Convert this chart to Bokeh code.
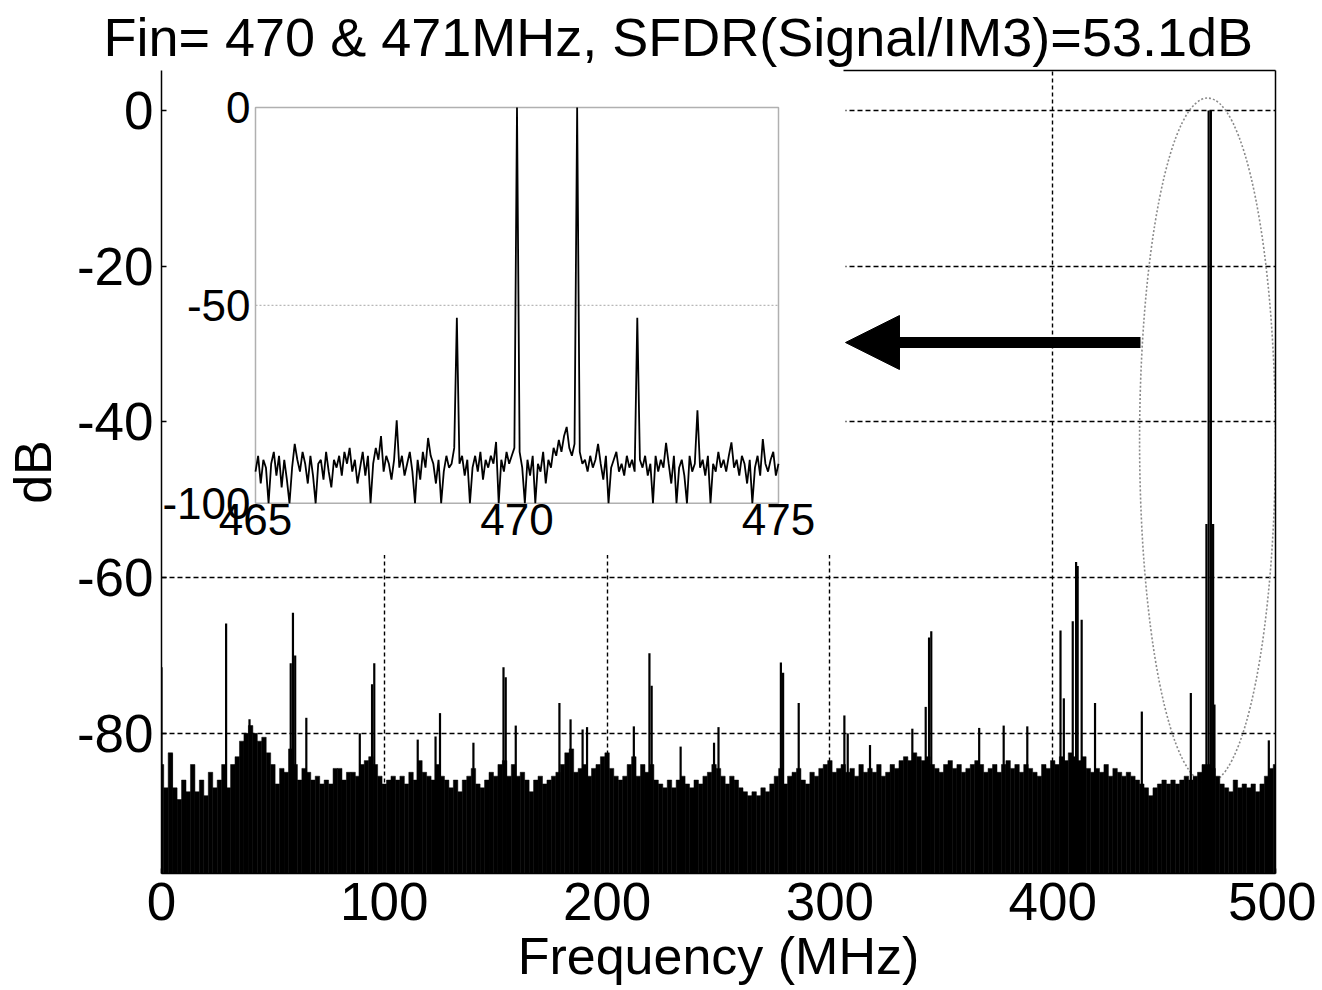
from bokeh.plotting import figure
from bokeh.models import Range1d, LinearAxis, FixedTicker, Arrow, NormalHead, ColumnDataSource
from bokeh.core.properties import value
from bokeh.embed import file_html
from bokeh.resources import INLINE

# ---------------- data ----------------
TITLE = "Fin= 470 & 471MHz, SFDR(Signal/IM3)=53.1dB"
X_TICKS = [0, 100, 200, 300, 400, 500]
Y_TICKS = [0, -20, -40, -60, -80]

# main spectrum noise floor, one value every 2 MHz from 0 to 500 MHz (dB)
NOISE_STEP_MHZ = 2
NOISE_DB = [
    -84, -87, -82.5, -87, -88.5, -86, -87.5, -84, -87.5, -86,
    -88, -85, -87, -86, -84, -87, -84, -83, -81, -80,
    -79, -80, -81, -80.5, -82.5, -84, -86.5, -84.5, -85, -82,
    -84, -86, -84.5, -85, -86, -85.5, -86.5, -86, -86.5, -84.5,
    -84.5, -86, -85, -85, -85.5, -84, -83.5, -83, -84, -85.5,
    -86.5, -86, -85.5, -86, -85.5, -86.5, -85, -86, -83.5, -85,
    -85.5, -86, -84, -85.5, -86, -87, -86, -87.5, -86, -85.5,
    -84.5, -86.5, -87, -86, -85, -85.5, -84, -83.5, -85.5, -84,
    -85.5, -85, -86, -87.5, -86, -85.5, -86.5, -86, -85.5, -85,
    -84, -82.5, -82, -85, -84.5, -84, -85.5, -84.5, -84, -83,
    -82.5, -84.5, -85.5, -86, -85.5, -84, -83, -85.5, -84, -85,
    -84, -86, -86.5, -87, -86, -87, -86, -85.5, -86.5, -87,
    -86, -86.5, -85.5, -85, -84, -84.5, -85.5, -86.5, -85.5, -86,
    -87, -87.5, -88, -87.5, -88, -87, -87.5, -86.5, -85.5, -84.5,
    -86.5, -85.5, -85, -84.5, -86, -86.5, -85, -85.5, -84.5, -84,
    -83.5, -85, -84.5, -84, -85, -84.5, -85.5, -84, -85, -84.5,
    -85, -84, -85.5, -85, -84, -84.5, -83.5, -83, -83.5, -82.5,
    -83, -83.5, -83, -84, -84.5, -85, -84, -83.5, -84.5, -84,
    -85, -84.5, -84, -83.5, -84, -85, -84.5, -84, -85, -84,
    -83.5, -84.5, -84, -85, -84, -84.5, -85, -85.5, -84, -84.5,
    -83.5, -84, -83, -83.5, -82.5, -83, -83.5, -83, -84.5, -85,
    -84.5, -85, -84, -85.5, -84.5, -85, -85.5, -85, -85.5, -86,
    -86.5, -87, -88, -87, -86.5, -86, -86.5, -86, -86.5, -86,
    -85.5, -86, -85.5, -85, -84, -84, -84.5, -85.5, -86.5, -87,
    -87.5, -86, -87, -86.5, -87, -86.5, -87.5, -86.5, -85.5, -84.5,
    -84,
]

# spurs and tones standing above the floor
SPUR_MHZ = [0, 4.5, 29, 39.5, 58, 59, 60, 65, 89, 94.5,
            95.5, 115, 123, 125, 140, 153.5, 154.5, 159, 178.6, 183.6,
            189, 191, 212, 219, 220, 233, 248, 250, 278, 279,
            286, 306.5, 308, 318, 337, 343, 344.5, 345.5, 367, 378,
            388.6, 403.5, 405, 409, 410.5, 411.2, 413, 419, 440, 462,
            469, 470, 471, 472, 472.6, 497]
SPUR_DB = [-71.5, -82.6, -65.9, -78.2, -71, -64.5, -70, -78, -80, -73.7,
           -71, -80.8, -80.4, -77.4, -81.2, -71.5, -72.8, -79, -76.1, -78.2,
           -79.5, -79.2, -79.1, -69.7, -73.9, -81.7, -81.2, -79.2, -70.9, -72.2,
           -76.1, -77.7, -80, -81.5, -79.4, -76.6, -67.7, -66.9, -79.3, -79,
           -79.1, -66.8, -75.5, -65.6, -58, -58.5, -65.4, -76.1, -77.2, -74.8,
           -53.1, 0, 0, -53.1, -76.3, -80.9]

# zoomed inset: 465-475 MHz, one value every 0.05 MHz (dB)
INSET_START_MHZ = 465
INSET_STEP_MHZ = 0.05
INSET_DB = [
    -92, -88, -95, -89, -91, -100, -90, -87, -93, -88, -96, -89, -94, -100, -91, -85, -89, -92, -87, -90,
    -95, -88, -93, -100, -90, -89, -94, -87, -92, -96, -89, -91, -88, -93, -87, -90, -86, -92, -89, -95,
    -91, -87, -93, -88, -100, -90, -86, -89, -83, -92, -88, -90, -94, -89, -79, -91, -88, -93, -90, -87,
    -92, -100, -89, -94, -87, -91, -83.5, -88, -90, -95, -89, -100, -92, -88, -91, -90, -86, -53.1, -90, -88,
    -93, -89, -100, -91, -88, -92, -87, -94, -89, -91, -88, -90, -84.5, -100, -89, -92, -87, -90, -88, -86,
    0, -87, -91, -100, -89, -93, -88, -100, -90, -92, -87, -95, -89, -91, -86, -88, -84, -87, -83, -80.7,
    -86, -88, -85, 0, -87, -90, -89, -92, -88, -91, -89, -85, -90, -94, -88, -100, -91, -89, -87, -92,
    -90, -93, -88, -91, -89, -92, -53.1, -89, -91, -88, -93, -90, -100, -88, -92, -89, -91, -84.7, -90, -95,
    -88, -100, -91, -89, -93, -100, -88, -92, -90, -76.5, -91, -89, -93, -88, -100, -90, -92, -87, -91, -89,
    -92, -88, -84.6, -91, -89, -93, -88, -90, -95, -89, -100, -91, -88, -93, -83.8, -90, -92, -89, -87, -93,
    -90,
]
INSET_X_TICKS = [465, 470, 475]
INSET_Y_TICKS = [0, -50, -100]

# ---------------- layout constants ----------------
X_MIN, X_MAX = 0, 500
Y_MIN, Y_MAX = -98, 5.14
# inset frame placed inside main data coordinates (left, right, bottom, top)
INSET_BOX = (42.19, 276.93, -50.45, 0.385)
INSET_XR = (465, 475)
INSET_YR = (-100, 0)
INSET_COVER = (X_MIN, 307.0, -57.1, Y_MAX + 2)   # white area behind inset
ELLIPSE = dict(x=469.5, y=-42.4, w=61, h=88)
ARROW = dict(x0=439.4, x1=307.0, y=-29.8)

FONT = "Liberation Sans"

# derived extra ranges so that the inset maps onto INSET_BOX
bl, br, bb, bt = INSET_BOX
sx = (INSET_XR[1] - INSET_XR[0]) / (br - bl)
sy = (INSET_YR[1] - INSET_YR[0]) / (bt - bb)
inset_x_range = Range1d(INSET_XR[0] - (bl - X_MIN) * sx, INSET_XR[1] + (X_MAX - br) * sx)
inset_y_range = Range1d(INSET_YR[0] - (bb - Y_MIN) * sy, INSET_YR[1] + (Y_MAX - bt) * sy)

p = figure(width=1316, height=988,
           x_range=Range1d(X_MIN, X_MAX), y_range=Range1d(Y_MIN, Y_MAX),
           output_backend="svg", toolbar_location=None,
           min_border_left=161, min_border_right=41, min_border_top=70, min_border_bottom=115)
p.extra_x_ranges = {"ix": inset_x_range}
p.extra_y_ranges = {"iy": inset_y_range}
p.outline_line_color = None
p.background_fill_color = "white"
p.border_fill_color = "white"

p.title.text = TITLE
p.title.text_font = FONT
p.title.text_font_size = "54px"
p.title.text_font_style = "normal"
p.title.text_color = "black"
p.title.align = "left"
p.title.offset = -58
p.title.standoff = 8

for ax in (p.xaxis[0], p.yaxis[0]):
    ax.major_label_text_font = FONT
    ax.major_label_text_font_size = "53px"
    ax.axis_label_text_font = FONT
    ax.axis_label_text_font_size = "52px"
    ax.axis_label_text_font_style = "normal"
    ax.major_tick_in = 5
    ax.major_tick_out = 0
    ax.minor_tick_line_color = None
    ax.axis_line_color = "black"
    ax.axis_line_width = 1.5
    ax.major_tick_line_width = 1.5
    ax.major_label_text_color = "black"
    ax.axis_label_text_color = "black"
p.xaxis[0].ticker = FixedTicker(ticks=X_TICKS)
p.yaxis[0].ticker = FixedTicker(ticks=Y_TICKS)
p.yaxis[0].major_label_overrides = {t: str(t) for t in Y_TICKS}
p.xaxis[0].axis_label = "Frequency (MHz)"
p.yaxis[0].axis_label = "dB"
p.xaxis[0].major_label_standoff = 9
p.xaxis[0].axis_label_standoff = 4
p.yaxis[0].major_label_standoff = 8
p.yaxis[0].axis_label_standoff = 12

# right spine and partial top spine
right_ax = LinearAxis(ticker=FixedTicker(ticks=[]), axis_line_width=1.5, axis_line_color="black",
                      major_tick_line_color=None, minor_tick_line_color=None)
p.add_layout(right_ax, "right")
top_ax = LinearAxis(ticker=FixedTicker(ticks=[]), axis_line_width=1.5, axis_line_color="black",
                    major_tick_line_color=None, minor_tick_line_color=None,
                    bounds=(INSET_COVER[1] - 1, X_MAX))
p.add_layout(top_ax, "above")

# grids
p.xgrid.ticker = FixedTicker(ticks=X_TICKS[1:-1])
p.ygrid.ticker = FixedTicker(ticks=Y_TICKS)
for g in (p.xgrid[0], p.ygrid[0]):
    g.grid_line_color = "black"
    g.grid_line_width = 1.4
p.ygrid[0].grid_line_dash = "5 3"
p.xgrid[0].grid_line_dash = "4 3"

# ellipse marking the tones
p.ellipse(x=ELLIPSE["x"], y=ELLIPSE["y"], width=ELLIPSE["w"], height=ELLIPSE["h"],
          fill_color=None, line_color="#8a8a8a", line_width=1.6, line_dash="2 2")

# main spectrum
freq = [i * NOISE_STEP_MHZ for i in range(len(NOISE_DB))]
src = ColumnDataSource(dict(f=freq, db=NOISE_DB))
p.vbar(x="f", top="db", bottom=Y_MIN - 10, width=NOISE_STEP_MHZ, source=src,
       fill_color="black", line_color="black", line_width=0.5)
p.segment(x0=SPUR_MHZ, y0=[Y_MIN - 10] * len(SPUR_MHZ), x1=SPUR_MHZ, y1=SPUR_DB,
          line_color="black", line_width=2.2)

# arrow
p.add_layout(Arrow(end=NormalHead(size=54, fill_color="black", line_color="black", line_width=1),
                   x_start=ARROW["x0"], y_start=ARROW["y"], x_end=ARROW["x1"], y_end=ARROW["y"],
                   line_color="black", line_width=11))

# inset: white cover, frame, grid, data, tick labels
cl, cr, cb, ct = INSET_COVER
p.quad(left=[cl], right=[cr], bottom=[cb], top=[ct], fill_color="white", line_color=None)
p.segment(x0=[INSET_XR[0]], y0=[-50], x1=[INSET_XR[1]], y1=[-50], line_color="#b8b8b8",
          line_width=1.3, line_dash="2 2", x_range_name="ix", y_range_name="iy")
p.quad(left=[INSET_XR[0]], right=[INSET_XR[1]], bottom=[INSET_YR[0]], top=[INSET_YR[1]],
       fill_color=None, line_color="#b0b0b0", line_width=1.5, x_range_name="ix", y_range_name="iy")
inset_f = [INSET_START_MHZ + i * INSET_STEP_MHZ for i in range(len(INSET_DB))]
p.line(x=inset_f, y=INSET_DB, line_color="black", line_width=1.8, x_range_name="ix", y_range_name="iy")

p.text(x=[INSET_XR[0]] * len(INSET_Y_TICKS), y=INSET_Y_TICKS, text=[str(t) for t in INSET_Y_TICKS],
       x_offset=-5, text_align="right", text_baseline="middle", text_font=value(FONT),
       text_font_size="44px", text_color="black", x_range_name="ix", y_range_name="iy")
p.text(x=INSET_X_TICKS, y=[INSET_YR[0]] * len(INSET_X_TICKS), text=[str(t) for t in INSET_X_TICKS],
       y_offset=1, text_align="center", text_baseline="top", text_font=value(FONT),
       text_font_size="44px", text_color="black", x_range_name="ix", y_range_name="iy")

open("out.html", "w").write(file_html(p, INLINE))
